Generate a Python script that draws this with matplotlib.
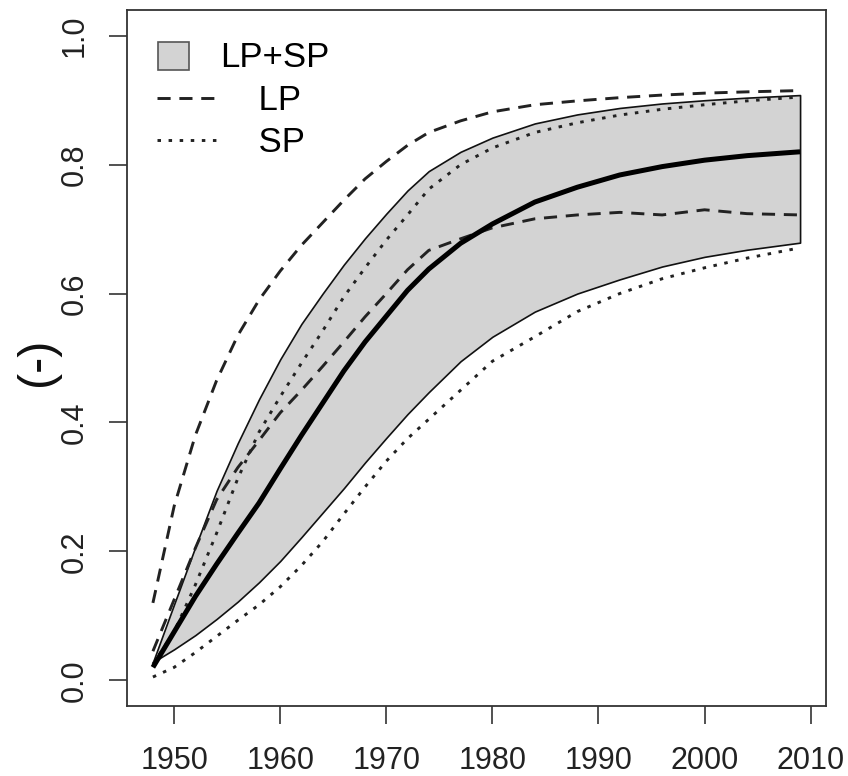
import numpy as np
import matplotlib
matplotlib.use('Agg')
import matplotlib.pyplot as plt
import matplotlib.patches as mpatches
from matplotlib.legend_handler import HandlerPatch
from matplotlib.lines import Line2D

plt.rcParams['font.family'] = ['Liberation Sans', 'DejaVu Sans']

# values
years = [1948, 1950, 1952, 1954, 1956, 1958, 1960, 1962, 1964, 1966, 1968, 1970,
         1972, 1974, 1977, 1980, 1984, 1988, 1992, 1996, 2000, 2004, 2009]

# outer / inner LP (dashed)
lp_hi = [0.12, 0.27, 0.38, 0.465, 0.535, 0.59, 0.635, 0.675, 0.71, 0.745, 0.778, 0.805,
         0.83, 0.85, 0.868, 0.882, 0.893, 0.899, 0.904, 0.908, 0.911, 0.913, 0.915]
lp_lo = [0.045, 0.125, 0.205, 0.28, 0.33, 0.372, 0.415, 0.45, 0.487, 0.525, 0.564, 0.60,
         0.637, 0.667, 0.685, 0.702, 0.716, 0.722, 0.726, 0.722, 0.73, 0.724, 0.722]

# SP (dotted)
sp_hi = [0.025, 0.075, 0.148, 0.228, 0.313, 0.385, 0.44, 0.492, 0.542, 0.595, 0.64, 0.683,
         0.722, 0.762, 0.80, 0.826, 0.85, 0.865, 0.877, 0.886, 0.893, 0.899, 0.905]
sp_lo = [0.005, 0.02, 0.043, 0.068, 0.093, 0.117, 0.145, 0.178, 0.215, 0.258, 0.30, 0.34,
         0.375, 0.405, 0.45, 0.495, 0.533, 0.572, 0.60, 0.623, 0.64, 0.655, 0.671]

# LP+SP band and its mean
band_hi = [0.028, 0.118, 0.207, 0.294, 0.368, 0.436, 0.498, 0.553, 0.60, 0.645, 0.686, 0.724,
           0.76, 0.79, 0.82, 0.842, 0.864, 0.878, 0.888, 0.895, 0.90, 0.904, 0.908]
band_lo = [0.028, 0.048, 0.07, 0.095, 0.122, 0.152, 0.185, 0.222, 0.26, 0.298, 0.338, 0.376,
           0.413, 0.447, 0.495, 0.533, 0.572, 0.60, 0.622, 0.642, 0.657, 0.668, 0.679]
mean = [0.02, 0.075, 0.13, 0.18, 0.228, 0.275, 0.328, 0.38, 0.43, 0.48, 0.525, 0.565,
        0.605, 0.638, 0.678, 0.708, 0.742, 0.765, 0.784, 0.797, 0.807, 0.814, 0.82]

x_ticks = [1950, 1960, 1970, 1980, 1990, 2000, 2010]
y_ticks = [0.0, 0.2, 0.4, 0.6, 0.8, 1.0]

dash = (4.5, 3.0)
dot = (1.2, 2.6)

fig = plt.figure(figsize=(8.48, 7.76), dpi=100)
ax = fig.add_axes([0.1498, 0.0902, 0.8242, 0.8969])

ax.fill_between(years, band_lo, band_hi, facecolor='#d3d3d3', edgecolor='#111111',
                linewidth=1.2, zorder=1)
ax.plot(years, lp_hi, color='#222222', lw=2.1, dashes=dash, zorder=2)
ax.plot(years, lp_lo, color='#222222', lw=2.1, dashes=dash, zorder=2)
ax.plot(years, sp_hi, color='#222222', lw=2.1, dashes=dot, zorder=2)
ax.plot(years, sp_lo, color='#222222', lw=2.1, dashes=dot, zorder=2)
ax.plot(years, mean, color='black', lw=3.6, zorder=3, solid_capstyle='butt')

ax.set_xlim(1945.56, 2011.44)
ax.set_ylim(-0.04, 1.04)
ax.set_xticks(x_ticks)
ax.set_yticks(y_ticks)
ax.set_yticklabels([f'{v:.1f}' for v in y_ticks], rotation=90, va='center')
ax.tick_params(axis='both', direction='out', length=13, width=1.2, color='#333333',
               labelsize=22, labelcolor='#222222')
ax.tick_params(axis='x', pad=16)
ax.tick_params(axis='y', pad=14)
for s in ax.spines.values():
    s.set_color('#333333')
    s.set_linewidth(1.3)

ax.set_ylabel('(-)', fontsize=35, color='#111111')
ax.yaxis.set_label_coords(-0.096, 0.494)


def small_box(legend, orig_handle, xdescent, ydescent, width, height, fontsize):
    return mpatches.Rectangle((-xdescent + 1, -ydescent - 2), width * 0.5, height + 3)


handles = [mpatches.Patch(facecolor='#d3d3d3', edgecolor='#555555', linewidth=1.2),
           Line2D([], [], color='#222222', lw=2.1, dashes=dash),
           Line2D([], [], color='#222222', lw=2.1, dashes=dot)]
labels = ['LP+SP', '    LP', '    SP']
ax.legend(handles, labels, loc='upper left', bbox_to_anchor=(0.043, 0.955),
          frameon=False, fontsize=25, borderaxespad=0, borderpad=0,
          handlelength=1.76, handletextpad=0.06, labelspacing=0.27,
          handler_map={mpatches.Patch: HandlerPatch(patch_func=small_box)})

fig.savefig('out.png', dpi=100)
